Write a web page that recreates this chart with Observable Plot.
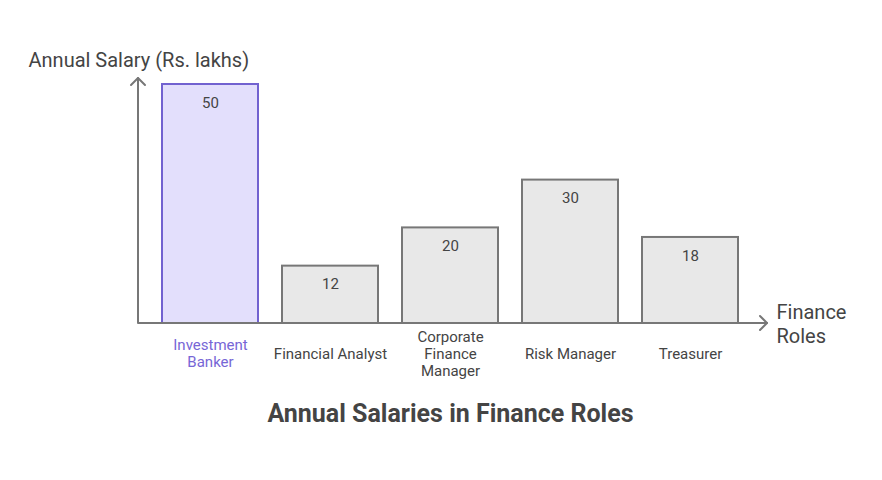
<!DOCTYPE html>
<html><head><meta charset="utf-8">
<script src="https://cdn.jsdelivr.net/npm/d3@7"></script>
<script src="https://cdn.jsdelivr.net/npm/@observablehq/plot@0.6"></script>
<style>body{margin:0;background:#fff;}</style>
</head><body><div id="chart"></div>
<script>
const roles = ["Investment Banker","Financial Analyst","Corporate Finance Manager","Risk Manager","Treasurer"];
const tickLabels = ["Investment\nBanker","Financial Analyst","Corporate\nFinance\nManager","Risk Manager","Treasurer"];
const salaries = [50,12,20,30,18];
const highlighted = ["Investment Banker"];
const title = "Annual Salaries in Finance Roles";
const yLabel = "Annual Salary (Rs. lakhs)";
const xLabel = "Finance\nRoles";

const data = roles.map((r,i)=>({role:r, salary:salaries[i], label:tickLabels[i], hi: highlighted.includes(r)}));

function axesArrows(index, scales, values, dims) {
  const g = d3.create("svg:g").attr("fill","none").attr("stroke","#777").attr("stroke-width",2)
    .attr("stroke-linecap","round").attr("stroke-linejoin","round");
  const x0 = dims.marginLeft, y0 = dims.height - dims.marginBottom;
  const xEnd = dims.width - dims.marginRight + 5;
  const yEnd = dims.marginTop - 6;
  g.append("path").attr("d", `M${x0},${y0}H${xEnd}M${x0},${y0}V${yEnd}`);
  g.append("path").attr("d", `M${xEnd-7},${y0-7}L${xEnd},${y0}L${xEnd-7},${y0+7}`);
  g.append("path").attr("d", `M${x0-7},${yEnd+7}L${x0},${yEnd}L${x0+7},${yEnd+7}`);
  return g.node();
}

const chart = Plot.plot({
  width: 882, height: 480,
  marginLeft: 138, marginRight: 120, marginTop: 84, marginBottom: 157,
  style: {fontFamily: "Roboto, sans-serif", background: "#fff"},
  x: {axis: null, domain: roles, padding: 0.2},
  y: {axis: null, domain: [0, 50]},
  color: {type: "identity"},
  marks: [
    Plot.barY(data, {x: "role", y: "salary",
      fill: d => d.hi ? "#e3dffc" : "#e8e8e8",
      stroke: d => d.hi ? "#7262d0" : "#777", strokeWidth: 2}),
    axesArrows,
    Plot.text(data, {x: "role", y: "salary", text: d => String(d.salary),
      lineAnchor: "middle", dy: 18.5, fontSize: 15, fill: "#444"}),
    Plot.text(data, {x: "role", text: "label", frameAnchor: "bottom", dy: 30,
      lineAnchor: "middle", lineHeight: 1.13, fontSize: 15,
      fill: d => d.hi ? "#7766d6" : "#444"}),
    Plot.text([yLabel], {text: d => d, frameAnchor: "top-left", dx: -110, dy: -24,
      textAnchor: "start", lineAnchor: "middle", fontSize: 20, fill: "#444"}),
    Plot.text([xLabel], {text: d => d, frameAnchor: "bottom-right", dx: 14, dy: 0,
      textAnchor: "start", lineAnchor: "middle", lineHeight: 1.2, fontSize: 20, fill: "#444"}),
    Plot.text([title], {text: d => d, frameAnchor: "bottom", dy: 90,
      lineAnchor: "middle", fontSize: 25, fontWeight: "bold", fill: "#444"})
  ]
});
document.getElementById("chart").append(chart);
</script>
</body></html>
